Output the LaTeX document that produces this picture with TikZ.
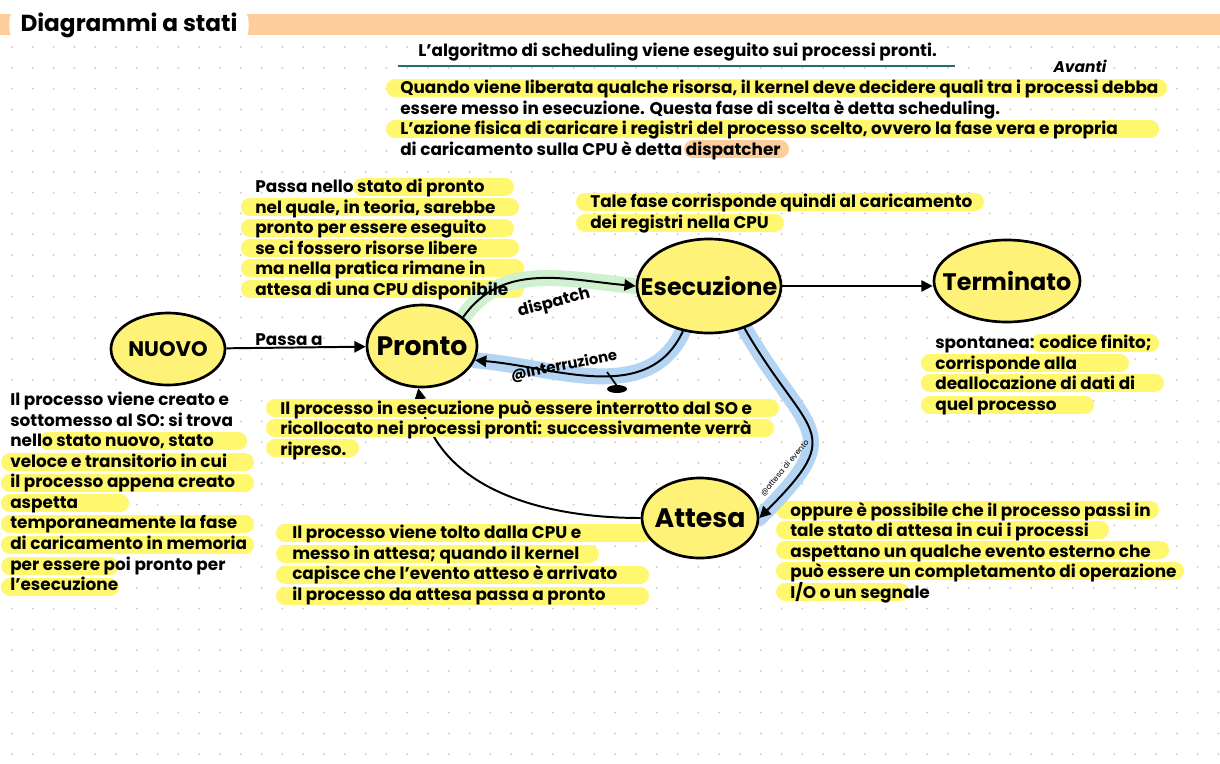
\documentclass[tikz,border=0pt]{standalone}
\usepackage{fontspec}
\setmainfont{Poppins}
\usetikzlibrary{shapes.geometric, arrows.meta}

\definecolor{hlyellow}{RGB}{255,248,110}
\definecolor{statefill}{RGB}{255,242,120}
\definecolor{bandorange}{RGB}{253,206,156}
\definecolor{hlblue}{RGB}{180,212,243}
\definecolor{hlgreen}{RGB}{208,241,208}
\definecolor{lineteal}{RGB}{38,110,105}
\definecolor{dotgray}{RGB}{210,204,204}

\pgfdeclarelayer{paper}
\pgfdeclarelayer{bg}
\pgfsetlayers{paper,bg,main}

\begin{document}
\begin{tikzpicture}[x=0.025cm, y=-0.025cm,
	statonode/.style={ellipse, draw, line width=1.9pt, fill=statefill, inner sep=0pt},
	statolabel/.style={font=\fontsize{17}{20}\selectfont\bfseries},
	txt/.style={anchor=north west, align=left, inner sep=0pt, font=\fontsize{12}{14.6}\selectfont\bfseries},
	lbl/.style={inner sep=1pt, font=\fontsize{12}{14}\selectfont\bfseries},
	hl/.style={line width=0.45cm, line cap=round, hlyellow},
	arr/.style={-{Triangle[length=8pt,width=8pt]}, line width=1.4pt},
	band/.style={line width=0.4cm, line cap=round}]
	\useasboundingbox (0,0) rectangle (1220,763);
	\begin{pgfonlayer}{paper}
		\fill[white] (0,0) rectangle (1220,763);
		% dotted paper
		\foreach \i in {0,...,58}
			\foreach \j in {0,...,34}
				\fill[dotgray] ({12+\i*20.8},{47+\j*20.8}) circle[radius=1.1];
		% header
		\fill[bandorange] (0,14) rectangle (1220,35);
	\end{pgfonlayer}
	\node[fill=white, rounded corners=9pt, inner xsep=8pt, inner ysep=3pt, anchor=west,
		font=\fontsize{16.5}{19}\selectfont\bfseries] (titolo) at (9,25) {Diagrammi a stati};
	\node[txt] (sched) at (418,43) {L'algoritmo di scheduling viene eseguito sui processi pronti.};
	\draw[lineteal, line width=1.5pt] (398,66) -- (955,66);
	\node[font=\fontsize{11}{11}\selectfont\bfseries\itshape] (avanti) at (1080,66) {Avanti};

	% states
	\node[statonode, minimum width=2.85cm, minimum height=1.8cm,
		label={[statolabel, font=\fontsize{15}{18}\selectfont\bfseries]center:NUOVO}] (nuovo) at (168,349) {};
	\node[statonode, minimum width=2.75cm, minimum height=2.05cm,
		label={[statolabel, font=\fontsize{19}{22}\selectfont\bfseries]center:Pronto}] (pronto) at (422,346) {};
	\node[statonode, minimum width=3.6cm, minimum height=2.35cm,
		label={[statolabel]center:Esecuzione}] (esecuzione) at (709,286) {};
	\node[statonode, minimum width=3.65cm, minimum height=2.05cm,
		label={[statolabel]center:Terminato}] (terminato) at (1007,281) {};
	\node[statonode, minimum width=2.9cm, minimum height=2cm,
		label={[statolabel, font=\fontsize{19}{22}\selectfont\bfseries]center:Attesa}] (attesa) at (700,518) {};

	\begin{pgfonlayer}{bg}
		% Attesa -> Pronto runs under the notes
		\draw[arr] (attesa.west) to[out=180, in=-80] (pronto.-95);
		% highlighter strokes
		\foreach \a/\b/\c in {395/1158/88, 395/1150/129,
			362/505/187, 250/510/207, 250/505/228, 250/510/248, 250/515/268, 250/515/289,
			585/975/202, 585/775/223,
			48/238/441, 10/245/462, 10/245/483, 10/120/503, 10/245/524, 10/245/545, 10/110/566, 10/110/587,
			275/770/408, 275/765/428, 275/350/448,
			1040/1150/343, 930/1120/363, 930/1155/383, 930/1085/405,
			285/645/533, 285/590/554, 285/640/575, 285/640/596,
			785/1150/510, 785/1100/530, 785/1160/550, 785/1175/571, 785/900/592}
			\draw[hl] (\a,\c) -- (\b,\c);
		\draw[hl, bandorange] (693,149) -- (780,149);
		% coloured bands under the transitions
		\draw[band, hlgreen] (pronto.35) to[out=55, in=175] (esecuzione.west);
		\draw[band, hlblue] (esecuzione.240) to[out=-115, in=-5] (pronto.-15);
		\draw[band, hlblue, xshift=0.2cm] (esecuzione.-50) to[out=-60, in=45, looseness=1.7] (attesa.east);
	\end{pgfonlayer}

	% transitions
	\draw[arr] (nuovo) -- node[lbl, above, pos=0.45] {Passa a} (pronto);
	\draw[arr] (pronto.35) to[out=55, in=175] (esecuzione.west);
	\draw[arr] (esecuzione.240) to[out=-115, in=-5] (pronto.-15);
	\draw[arr] (esecuzione.east) -- (esecuzione.east -| terminato.west);
	\draw[arr] (esecuzione.-50) to[out=-60, in=45, looseness=1.7] (attesa.east);
	\node[lbl, rotate=15, font=\fontsize{11.5}{13}\selectfont\bfseries] (dispatchlbl) at (554,303) {dispatch};
	\node[lbl, rotate=11, font=\fontsize{10.5}{12}\selectfont\bfseries] (interrlbl) at (564,366) {@Interruzione};
	\draw[line width=1.2pt] (607,372) -- (617,386);
	\fill (617,389) ellipse [x radius=10, y radius=4];
	\node[inner sep=1pt, rotate=50, font=\fontsize{5.5}{6}\selectfont] (attesalbl) at (785,468) {@attesa di evento};

	% notes
	\node[txt] (notasched) at (400,80) {Quando viene liberata qualche risorsa, il kernel deve decidere quali tra i processi debba\\
		essere messo in esecuzione. Questa fase di scelta è detta scheduling.\\
		L'azione fisica di caricare i registri del processo scelto, ovvero la fase vera e propria\\
		di caricamento sulla CPU è detta dispatcher};
	\node[txt] (notapronto) at (255,179) {Passa nello stato di pronto\\ nel quale, in teoria, sarebbe\\
		pronto per essere eseguito\\ se ci fossero risorse libere\\ ma nella pratica rimane in\\
		attesa di una CPU disponibile};
	\node[txt] (notadispatch) at (590,194) {Tale fase corrisponde quindi al caricamento\\ dei registri nella CPU};
	\node[txt] (notanuovo) at (10,392) {Il processo viene creato e\\ sottomesso al SO: si trova\\
		nello stato nuovo, stato\\ veloce e transitorio in cui\\ il processo appena creato\\ aspetta\\
		temporaneamente la fase\\ di caricamento in memoria\\ per essere poi pronto per\\ l'esecuzione};
	\node[txt] (notainterr) at (280,400) {Il processo in esecuzione può essere interrotto dal SO e\\
		ricollocato nei processi pronti: successivamente verrà\\ ripreso.};
	\node[txt] (notaterm) at (935,335) {spontanea: codice finito;\\ corrisponde alla\\
		deallocazione di dati di\\ quel processo};
	\node[txt] (notaattesa) at (292,525) {Il processo viene tolto dalla CPU e\\ messo in attesa; quando il kernel\\
		capisce che l'evento atteso è arrivato\\ il processo da attesa passa a pronto};
	\node[txt] (notaevento) at (790,502) {oppure è possibile che il processo passi in\\
		tale stato di attesa in cui i processi\\ aspettano un qualche evento esterno che\\
		può essere un completamento di operazione\\ I/O o un segnale};
\end{tikzpicture}
\end{document}
